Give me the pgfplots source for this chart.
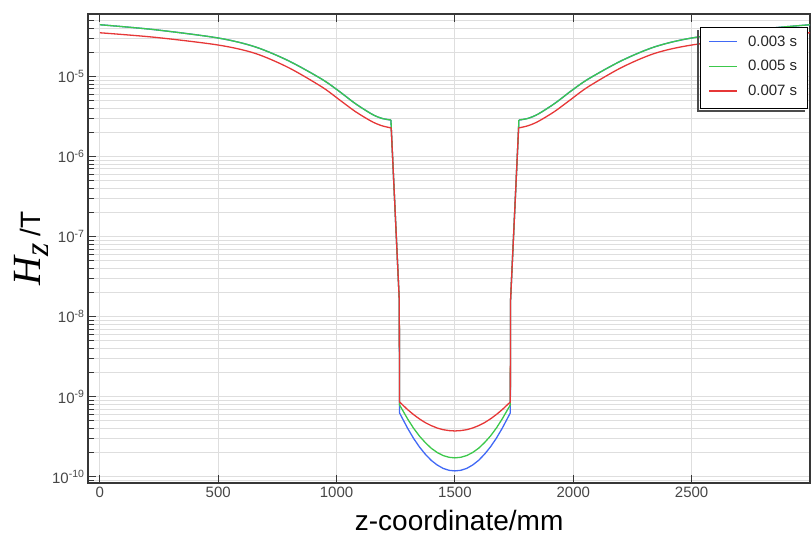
\documentclass[border=0pt]{standalone}
\usepackage{fontspec}
\setmainfont{Liberation Sans}
\newfontfamily\timesf{Liberation Serif}
\usepackage{pgfplots}
\usepackage{pgfplotstable}
\pgfplotsset{compat=1.18}
\usetikzlibrary{calc}

\definecolor{cblue}{RGB}{65,105,245}
\definecolor{cgreen}{RGB}{60,200,75}
\definecolor{cred}{RGB}{230,55,55}
\definecolor{gridc}{RGB}{222,222,222}
\definecolor{axc}{RGB}{55,55,55}
\definecolor{tickc}{RGB}{70,70,70}

\pgfplotstableread{
z v
0 4.41e-5
233 3.82e-5
500 3.01e-5
655 2.34e-5
796 1.57e-5
937 9.25e-6
1008 6.61e-6
1078 4.60e-6
1148 3.39e-6
1191 2.99e-6
1230 2.85e-6
1231 2.27e-6
1265 1.6e-8
1266 6.30e-10
1300 4.06e-10
1325 3.04e-10
1350 2.37e-10
1375 1.92e-10
1400 1.61e-10
1425 1.41e-10
1450 1.28e-10
1475 1.21e-10
1500 1.19e-10
1525 1.21e-10
1550 1.28e-10
1575 1.41e-10
1600 1.61e-10
1625 1.92e-10
1650 2.37e-10
1675 3.04e-10
1700 4.06e-10
1734 6.30e-10
1735 1.6e-8
1769 2.27e-6
1770 2.85e-6
1809 2.99e-6
1852 3.39e-6
1922 4.60e-6
1992 6.61e-6
2063 9.25e-6
2204 1.57e-5
2345 2.34e-5
2500 3.01e-5
2767 3.82e-5
3000 4.41e-5
}\tblue

\pgfplotstableread{
z v
0 4.41e-5
233 3.82e-5
500 3.01e-5
655 2.34e-5
796 1.57e-5
937 9.25e-6
1008 6.61e-6
1078 4.60e-6
1148 3.39e-6
1191 2.99e-6
1230 2.85e-6
1231 2.27e-6
1265 1.6e-8
1266 7.93e-10
1300 5.31e-10
1325 4.07e-10
1350 3.24e-10
1375 2.68e-10
1400 2.28e-10
1425 2.02e-10
1450 1.85e-10
1475 1.76e-10
1500 1.73e-10
1525 1.76e-10
1550 1.85e-10
1575 2.02e-10
1600 2.28e-10
1625 2.68e-10
1650 3.24e-10
1675 4.07e-10
1700 5.31e-10
1734 7.93e-10
1735 1.6e-8
1769 2.27e-6
1770 2.85e-6
1809 2.99e-6
1852 3.39e-6
1922 4.60e-6
1992 6.61e-6
2063 9.25e-6
2204 1.57e-5
2345 2.34e-5
2500 3.01e-5
2767 3.82e-5
3000 4.41e-5
}\tgreen

\pgfplotstableread{
z v
0 3.50e-5
233 3.07e-5
500 2.46e-5
655 1.94e-5
796 1.29e-5
937 7.41e-6
1008 5.21e-6
1078 3.66e-6
1148 2.74e-6
1191 2.42e-6
1231 2.27e-6
1265 1.6e-8
1266 8.63e-10
1300 6.93e-10
1325 6.01e-10
1350 5.30e-10
1375 4.76e-10
1400 4.37e-10
1425 4.08e-10
1450 3.89e-10
1475 3.79e-10
1500 3.75e-10
1525 3.79e-10
1550 3.89e-10
1575 4.08e-10
1600 4.37e-10
1625 4.76e-10
1650 5.30e-10
1675 6.01e-10
1700 6.93e-10
1734 8.63e-10
1735 1.6e-8
1769 2.27e-6
1809 2.42e-6
1852 2.74e-6
1922 3.66e-6
1992 5.21e-6
2063 7.41e-6
2204 1.29e-5
2345 1.94e-5
2500 2.46e-5
2767 3.07e-5
3000 3.50e-5
}\tred

\begin{document}
\begin{tikzpicture}
\path[use as bounding box] (-88pt,-53pt) rectangle (723pt,483pt);
\begin{axis}[
  scale only axis, width=722pt, height=469pt,
  at={(0pt,0pt)}, anchor=south west,
  ymode=log,
  xmin=-50, xmax=3000, ymin=8.4e-11, ymax=6e-5,
  xtick={0,500,1000,1500,2000,2500},
  ytick={1e-10,1e-9,1e-8,1e-7,1e-6,1e-5},
  yticklabels={10\textsuperscript{-10},10\textsuperscript{-9},10\textsuperscript{-8},10\textsuperscript{-7},10\textsuperscript{-6},10\textsuperscript{-5}},
  minor ytick={9e-11,2e-10,3e-10,4e-10,5e-10,6e-10,7e-10,8e-10,9e-10,
    2e-9,3e-9,4e-9,5e-9,6e-9,7e-9,8e-9,9e-9,
    2e-8,3e-8,4e-8,5e-8,6e-8,7e-8,8e-8,9e-8,
    2e-7,3e-7,4e-7,5e-7,6e-7,7e-7,8e-7,9e-7,
    2e-6,3e-6,4e-6,5e-6,6e-6,7e-6,8e-6,9e-6,
    2e-5,3e-5,4e-5,5e-5},
  grid=both,
  major grid style={gridc, line width=0.9pt},
  minor grid style={gridc, line width=0.9pt},
  axis line style={axc, line width=1.3pt},
  tick style={axc, line width=1pt},
  major tick length=8pt, minor tick length=6pt,
  tick align=inside,
  xtick pos=both, ytick pos=left,
  ticklabel style={font=\fontsize{15}{15}\selectfont, text=tickc},
  /pgf/number format/assume math mode=true,
  /pgf/number format/1000 sep={},
  xlabel={\fontsize{28}{28}\selectfont z-coordinate/mm},
  xlabel style={at={(axis description cs:0.514,-0.1023)}, anchor=base},
  ylabel={{\timesf\itshape\fontsize{40}{40}\selectfont H\raisebox{-8pt}{\fontsize{34}{34}\selectfont z}}\hspace{7pt}{\fontsize{28}{28}\selectfont /T}},
  ylabel style={at={(axis description cs:-0.079,0.5)}, anchor=center},
  legend cell align=left,
  legend image code/.code={\draw[#1, line width=1.5pt] (0pt,0pt) -- (28pt,0pt); \path (0pt,-11pt);},
  legend style={at={(axis description cs:0.997,0.972)}, anchor=north east,
    name=leg, draw=black, line width=1.2pt, fill=white,
    font=\fontsize{15}{15}\selectfont, text=black!85,
    inner xsep=8pt, inner ysep=6pt, row sep=5pt, column sep=8pt},
  every axis plot/.append style={line width=1.3pt},
]
% blue
\addplot[cblue, smooth, tension=0.5, restrict x to domain=0:1230] table[x=z,y=v] {\tblue};
\addlegendentry{0.003 s}
\addplot[cblue, sharp plot, restrict x to domain=1230:1770, forget plot] table[x=z,y=v] {\tblue};
\addplot[cblue, smooth, tension=0.5, restrict x to domain=1770:3000, forget plot] table[x=z,y=v] {\tblue};
% green
\addplot[cgreen, smooth, tension=0.5, restrict x to domain=0:1230] table[x=z,y=v] {\tgreen};
\addlegendentry{0.005 s}
\addplot[cgreen, sharp plot, restrict x to domain=1230:1770, forget plot] table[x=z,y=v] {\tgreen};
\addplot[cgreen, smooth, tension=0.5, restrict x to domain=1770:3000, forget plot] table[x=z,y=v] {\tgreen};
% red
\addplot[cred, smooth, tension=0.5, restrict x to domain=0:1231] table[x=z,y=v] {\tred};
\addlegendentry{0.007 s}
\addplot[cred, sharp plot, restrict x to domain=1231:1769, forget plot] table[x=z,y=v] {\tred};
\addplot[cred, smooth, tension=0.5, restrict x to domain=1769:3000, forget plot] table[x=z,y=v] {\tred};
\end{axis}
% legend shadow (left and bottom strips)
\fill[black!70] ($(leg.south west)+(-3.1pt,-3.1pt)$) rectangle ($(leg.north west)+(-0.6pt,-3.1pt)$);
\fill[black!70] ($(leg.south west)+(-3.1pt,-3.1pt)$) rectangle ($(leg.south east)+(-3.1pt,-0.6pt)$);
\end{tikzpicture}
\end{document}
